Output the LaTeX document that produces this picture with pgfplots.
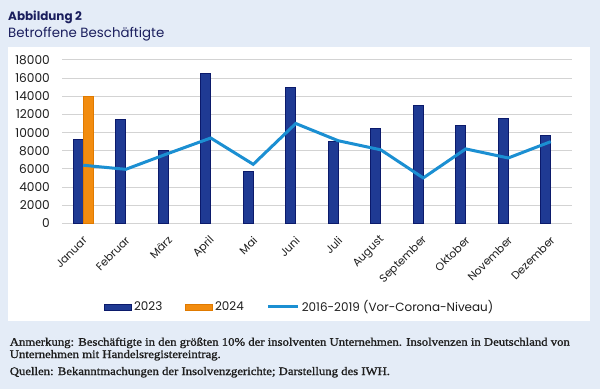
\documentclass[border=0pt]{standalone}
\usepackage{pgfplots}
\pgfplotsset{compat=1.18}
\usepackage{pgfplotstable}
\usepackage{graphicx}
\usepackage{fontspec}
\setmainfont{Poppins}
\newfontfamily\notefont{Liberation Serif}[FakeBold=1.2]

\definecolor{bgblue}{HTML}{E4ECF7}
\definecolor{navy}{HTML}{1F3A93}
\definecolor{navyedge}{HTML}{0B1A6B}
\definecolor{orng}{HTML}{F28C0F}
\definecolor{orngedge}{HTML}{E07A00}
\definecolor{linec}{HTML}{1B8FD2}
\definecolor{titlec}{HTML}{1B1F5E}
\definecolor{gridc}{HTML}{D3D3D3}
\definecolor{txt}{HTML}{1E1E1E}

\pgfplotstableread{
x y23 base
0 9250 6400
1 11400 5950
2 8000 7700
3 16550 9400
4 5700 6500
5 15000 11000
6 9000 9100
7 10500 8100
8 12950 5000
9 10750 8200
10 11550 7200
11 9650 9000
}\data

\newlength\lA

\begin{document}
\begin{tikzpicture}
\fill[bgblue] (0,0) rectangle (600bp,389bp);
\fill[white] (8bp,68bp) rectangle (590bp,341.5bp);
\node[anchor=west, inner sep=0, text=titlec, font=\fontsize{12}{14}\bfseries\selectfont] at (8bp,372bp) {Abbildung 2};
\node[anchor=west, inner sep=0, text=titlec, font=\fontsize{13.4}{15}\selectfont] at (8bp,355bp) {Betroffene Beschäftigte};

\begin{axis}[
  at={(62bp,165.7bp)}, anchor=south west,
  scale only axis, width=510bp, height=163.3bp,
  xmin=-0.5, xmax=11.5, ymin=0, ymax=18000,
  axis line style={draw=none},
  major tick length=0pt,
  ymajorgrids, grid style={gridc, line width=1bp},
  ytick={0,2000,...,18000},
  scaled y ticks=false,
  /pgf/number format/.cd, 1000 sep={}, assume math mode=true, /pgfplots/.cd,
  yticklabel style={anchor=east, inner sep=0pt, xshift=-12bp, text=txt, font=\fontsize{12.2}{14}\selectfont},
  xtick={0,...,11},
  xticklabels={Januar,Februar,März,April,Mai,Juni,Juli,August,September,Oktober,November,Dezember},
  xticklabel style={xshift=2bp, yshift=-15bp, rotate=45, anchor=east, inner sep=0pt, text=txt, font=\fontsize{11}{13}\selectfont},
  legend columns=3,
  legend style={at={(0.0824,-0.5125)}, anchor=west, draw=none, fill=none, inner sep=0pt,
    font=\fontsize{12}{14}\selectfont, text=txt,
    /tikz/every even column/.append style={column sep=21bp}},
]
\addplot[ybar, bar width=10bp, bar shift=-5bp, fill=navy, draw=navyedge, line width=0.8bp,
  legend image code/.code={\draw[fill=navy, draw=navyedge, line width=0.8bp] (0bp,-3bp) rectangle (27bp,3bp);}]
  table[x=x,y=y23]{\data};
\addlegendentry{2023}
\addplot[ybar, bar width=10bp, bar shift=5bp, fill=orng, draw=orngedge, line width=0.8bp,
  legend image code/.code={\draw[fill=orng, draw=orngedge, line width=0.8bp] (0bp,-3bp) rectangle (27bp,3bp);}]
  coordinates {(0,14000)};
\addlegendentry{2024}
\addplot[linec, line width=3bp, no marks,
  legend image code/.code={\draw[linec, line width=3bp] (0bp,0bp) -- (30bp,0bp);}]
  table[x=x,y=base]{\data};
\addlegendentry{2016-2019 (Vor-Corona-Niveau)}
\end{axis}

\pgfinterruptpicture
\settowidth\lA{\notefont\fontsize{11.5}{13}\selectfont Anmerkung: Beschäftigte in den größten 10\% der insolventen Unternehmen. Insolvenzen in Deutschland von}%
\global\lA=\lA
\endpgfinterruptpicture
\pgfmathsetmacro\sx{562.1/\lA}
\node[anchor=base west, inner sep=0, text=txt, font=\notefont\fontsize{11.5}{13}\selectfont] at (9.6bp,43.3bp) {\scalebox{\sx}[1]{Anmerkung: Beschäftigte in den größten 10\% der insolventen Unternehmen. Insolvenzen in Deutschland von}};
\node[anchor=base west, inner sep=0, text=txt, font=\notefont\fontsize{11.5}{13}\selectfont] at (9.6bp,31bp) {\scalebox{\sx}[1]{Unternehmen mit Handelsregistereintrag.}};
\node[anchor=base west, inner sep=0, text=txt, font=\notefont\fontsize{11.5}{13}\selectfont] at (9.6bp,14bp) {\scalebox{\sx}[1]{Quellen: Bekanntmachungen der Insolvenzgerichte; Darstellung des IWH.}};

\pgfresetboundingbox
\useasboundingbox (0,0) rectangle (600bp,389bp);
\end{tikzpicture}
\end{document}
